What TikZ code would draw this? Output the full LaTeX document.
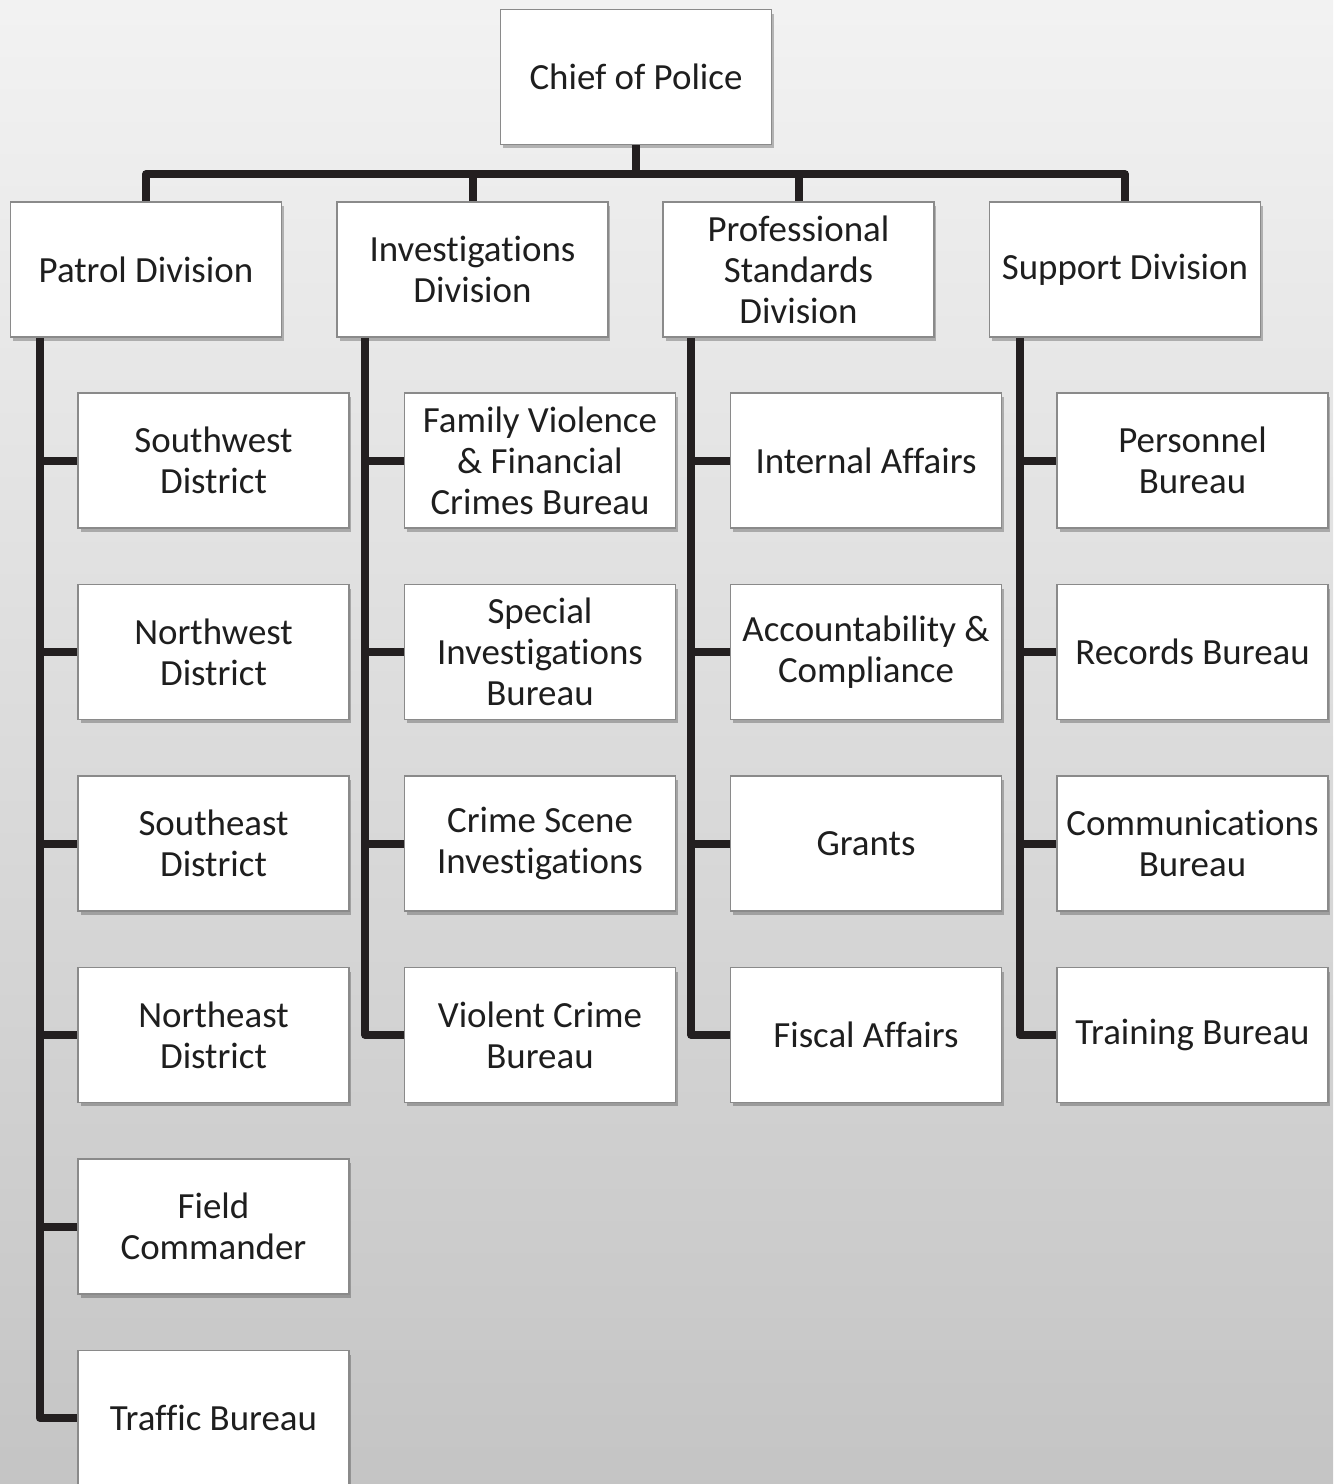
\documentclass[tikz,border=0pt]{standalone}
\usepackage{fontspec}
\setmainfont{Carlito}[Ligatures=NoCommon]
\usetikzlibrary{calc,shadows}

\definecolor{boxedge}{HTML}{8A8A8A}
\definecolor{inkline}{HTML}{231F20}
\definecolor{textgray}{HTML}{1E1E1E}

\tikzset{
  orgbox/.style={draw=boxedge, line width=0.9pt, fill=white, align=center,
    minimum width=5.42cm, minimum height=2.7cm, inner sep=0pt,
    text=textgray, font=\fontsize{21pt}{23.4pt}\selectfont,
    drop shadow={shadow xshift=0.05cm, shadow yshift=-0.08cm, opacity=0.25, fill=black}},
  orgline/.style={line width=0.16cm, draw=inkline, line join=round}
}

\begin{document}
\begin{tikzpicture}[x=0.02cm, y=-0.02cm]

    % background
    \fill[top color=black!5, bottom color=black!23] (0,0) rectangle (1333,1484);
    \useasboundingbox (0,0) rectangle (1333,1484);

    \node[orgbox] at (636,77) (Chief) {Chief of Police};

    \node[orgbox] at (146,269.5) (Patrol) {Patrol Division};
    \node[orgbox] at ($(Patrol)+(326.5,0)$) (Invest) {Investigations\\Division};
    \node[orgbox] at ($(Invest)+(326,0)$) (ProfStd) {Professional\\Standards\\Division};
    \node[orgbox] at ($(ProfStd)+(326.5,0)$) (Support) {Support Division};

    % patrol
    \node[orgbox] at ($(Patrol)+(67.5,191)$) (Patrol1) {Southwest\\District};
    \node[orgbox] at ($(Patrol1)+(0,191.5)$) (Patrol2) {Northwest\\District};
    \node[orgbox] at ($(Patrol2)+(0,191.5)$) (Patrol3) {Southeast\\District};
    \node[orgbox] at ($(Patrol3)+(0,191.5)$) (Patrol4) {Northeast\\District};
    \node[orgbox] at ($(Patrol4)+(0,191.5)$) (Patrol5) {Field\\Commander};
    \node[orgbox] at ($(Patrol5)+(0,191.5)$) (Patrol6) {Traffic Bureau};

    % investigations
    \node[orgbox] at ($(Invest)+(67.5,191)$) (Invest1) {Family Violence\\\& Financial\\Crimes Bureau};
    \node[orgbox] at ($(Invest1)+(0,191.5)$) (Invest2) {Special\\Investigations\\Bureau};
    \node[orgbox] at ($(Invest2)+(0,191.5)$) (Invest3) {Crime Scene\\Investigations};
    \node[orgbox] at ($(Invest3)+(0,191.5)$) (Invest4) {Violent Crime\\Bureau};

    % professional standards
    \node[orgbox] at ($(ProfStd)+(67.5,191)$) (ProfStd1) {Internal Affairs};
    \node[orgbox] at ($(ProfStd1)+(0,191.5)$) (ProfStd2) {Accountability \&\\Compliance};
    \node[orgbox] at ($(ProfStd2)+(0,191.5)$) (ProfStd3) {Grants};
    \node[orgbox] at ($(ProfStd3)+(0,191.5)$) (ProfStd4) {Fiscal Affairs};

    % support
    \node[orgbox] at ($(Support)+(67.5,191)$) (Support1) {Personnel\\Bureau};
    \node[orgbox] at ($(Support1)+(0,191.5)$) (Support2) {Records Bureau};
    \node[orgbox] at ($(Support2)+(0,191.5)$) (Support3) {Communications\\Bureau};
    \node[orgbox] at ($(Support3)+(0,191.5)$) (Support4) {Training Bureau};


    \coordinate (Bus) at ($(Chief.south)+(0,29)$);
    \draw[orgline] (Chief.south) -- (Bus);
    \draw[orgline] (Patrol.north) |- (Bus) -| (Support.north);
    \draw[orgline] (Invest.north) -- (Invest.north |- Bus);
    \draw[orgline] (ProfStd.north) -- (ProfStd.north |- Bus);

    \coordinate (PatrolSp) at ($(Patrol.south west)+(30,0)$);
    \coordinate (InvestSp) at ($(Invest.south west)+(29,0)$);
    \coordinate (ProfStdSp) at ($(ProfStd.south west)+(29,0)$);
    \coordinate (SupportSp) at ($(Support.south west)+(31,0)$);

    \draw[orgline] (PatrolSp) |- (Patrol6.west);
    \foreach \n in {1,...,5}
        \draw[orgline] (PatrolSp |- Patrol\n.west) -- (Patrol\n.west);

    \draw[orgline] (InvestSp) |- (Invest4.west);
    \draw[orgline] (ProfStdSp) |- (ProfStd4.west);
    \draw[orgline] (SupportSp) |- (Support4.west);
    \foreach \n in {1,2,3} {
        \draw[orgline] (InvestSp |- Invest\n.west) -- (Invest\n.west);
        \draw[orgline] (ProfStdSp |- ProfStd\n.west) -- (ProfStd\n.west);
        \draw[orgline] (SupportSp |- Support\n.west) -- (Support\n.west);
    }

\end{tikzpicture}
\end{document}
